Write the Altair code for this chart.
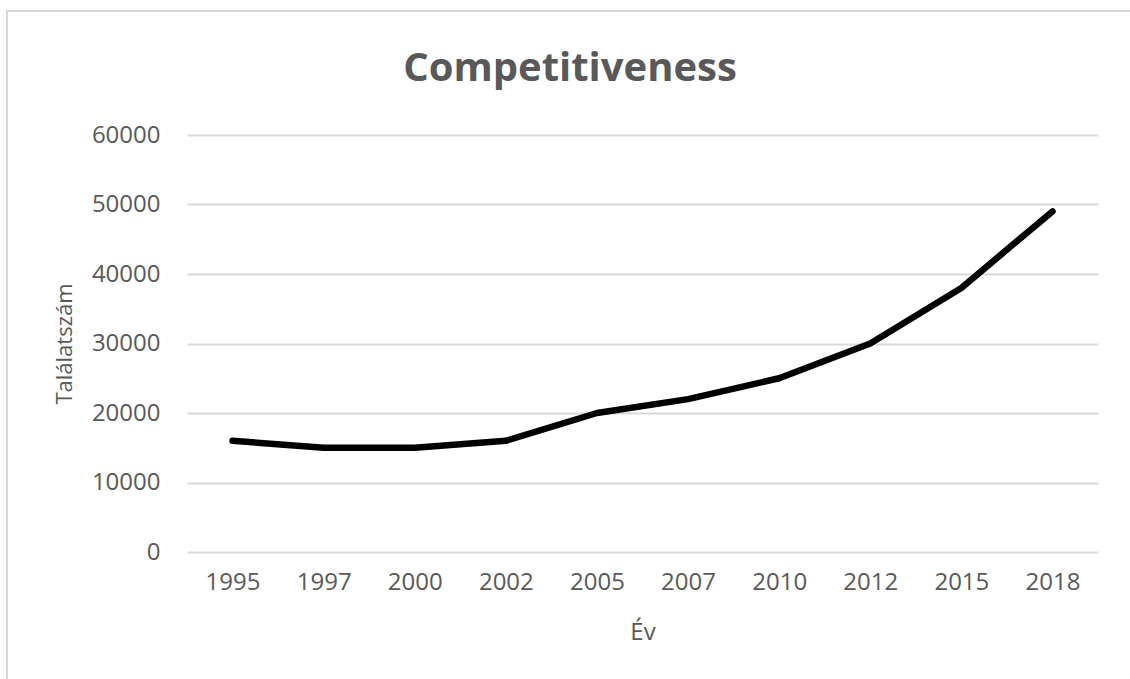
import altair as alt
import pandas as pd

years = ["1995", "1997", "2000", "2002", "2005", "2007", "2010", "2012", "2015", "2018"]
values = [16000, 15000, 15000, 16000, 20000, 22000, 25000, 30000, 38000, 49000]
title_text = ["Competitiveness"]

df = pd.DataFrame({"year": years, "value": values})

FONT = "Open Sans"
GREY = "#595959"

line = alt.Chart(df).mark_line(
    color="black", strokeWidth=6.5, strokeCap="round", strokeJoin="round",
    interpolate="linear"
).encode(
    x=alt.X("year:N", sort=years, scale=alt.Scale(type="point", padding=0.5),
            axis=alt.Axis(title="Év", labelAngle=0, domain=False, ticks=False,
                          labelPadding=18, titlePadding=26, labelFontSize=24,
                          titleFontSize=24, labelColor=GREY, titleColor=GREY,
                          labelFont=FONT, titleFont=FONT, titleFontWeight="normal",
                          grid=False)),
    y=alt.Y("value:Q", scale=alt.Scale(domain=[0, 60000], nice=False),
            axis=alt.Axis(title="Találatszám", values=[0, 10000, 20000, 30000, 40000, 50000, 60000],
                          format="d", domain=False, ticks=False, labelPadding=27,
                          titlePadding=15, labelFontSize=24, titleFontSize=22,
                          labelColor=GREY, titleColor=GREY, labelFont=FONT,
                          titleFont=FONT, titleFontWeight="normal",
                          grid=True, gridColor="#d9d9d9", gridWidth=2)),
)

border = alt.Chart(pd.DataFrame({"b": [0]})).mark_rect(
    fill=None, stroke="#d9d9d9", strokeWidth=2
).encode(
    x=alt.value(-180), x2=alt.value(960), y=alt.value(-124), y2=alt.value(600)
)

title = alt.Chart(pd.DataFrame({"t": title_text})).mark_text(
    font=FONT, fontSize=40, fontWeight="bold", color=GREY,
    align="center", baseline="alphabetic"
).encode(
    text="t:N", x=alt.value(383), y=alt.value(-54)
)

chart = alt.layer(border, title, line).properties(
    width=911, height=417,
    autosize=alt.AutoSizeParams(type="none"),
    padding={"left": 187, "top": 135, "right": 32, "bottom": 127},
).configure(background="white").configure_view(stroke=None)

chart.save("out.html", embed_options={"renderer": "svg", "actions": False})
